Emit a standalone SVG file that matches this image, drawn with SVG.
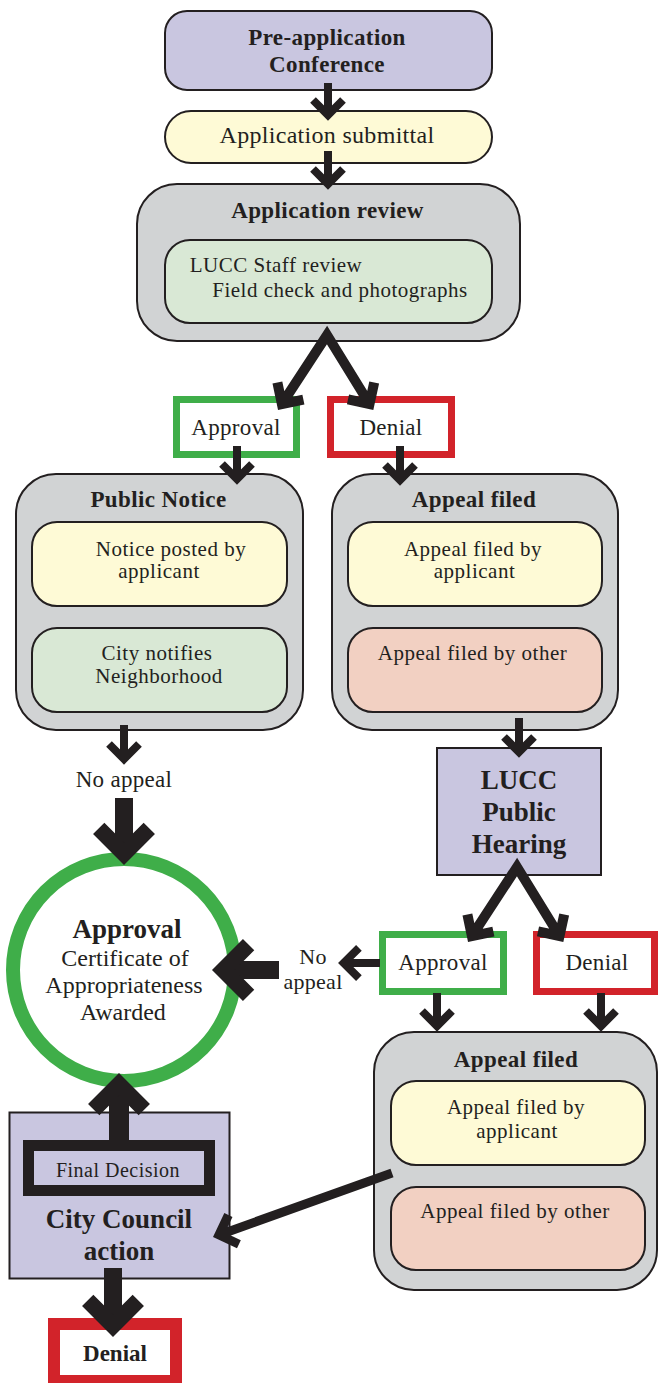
<svg xmlns="http://www.w3.org/2000/svg" width="660" height="1383" viewBox="0 0 660 1383">
<style>
text{font-family:"Liberation Serif","Times New Roman",serif;fill:#231f20;text-anchor:middle}
.b{font-weight:bold}
.t{font-size:23px;font-weight:bold;letter-spacing:0.4px}
.body{font-size:21px;letter-spacing:0.5px}
.lab{font-size:23px;letter-spacing:0.3px}
.lav{fill:#c9c6e0;stroke:#231f20;stroke-width:2}
.yel{fill:#fefad6;stroke:#231f20;stroke-width:2}
.gry{fill:#d1d3d4;stroke:#231f20;stroke-width:2}
.grn{fill:#d9e8d5;stroke:#231f20;stroke-width:2}
.sal{fill:#f2d0c2;stroke:#231f20;stroke-width:2}
.okbox{fill:#fff;stroke:#3fae49;stroke-width:7}
.nobox{fill:#fff;stroke:#d2232a;stroke-width:7}
.arr{fill:none;stroke:#231f20;stroke-linejoin:miter;stroke-miterlimit:10;stroke-linecap:butt}
</style>
<rect width="660" height="1383" fill="#fff"/>

<g id="pre-application">
<rect class="lav" x="165" y="11" width="327" height="79" rx="22"/>
<text class="t" x="327" y="45">Pre-application</text>
<text class="t" x="327" y="72">Conference</text>
</g>

<g id="application-submittal">
<rect class="yel" x="165" y="111" width="327" height="52" rx="26"/>
<text style="font-size:24px;letter-spacing:0.3px" x="327" y="143">Application submittal</text>
</g>

<g id="application-review">
<rect class="gry" x="137" y="184" width="383" height="157" rx="40"/>
<text class="t" x="327.5" y="218">Application review</text>
<rect class="grn" x="165" y="240" width="327" height="83" rx="25"/>
<text class="body" x="276" y="272">LUCC Staff review</text>
<text class="body" x="340" y="297">Field check and photographs</text>
</g>

<g id="approval-1">
<rect class="okbox" x="176.5" y="399.5" width="120" height="55"/>
<text class="lab" x="236" y="435">Approval</text>
</g>

<g id="denial-1">
<rect class="nobox" x="330.5" y="399.5" width="121" height="55"/>
<text class="lab" x="391" y="435">Denial</text>
</g>

<g id="public-notice">
<rect class="gry" x="16" y="474" width="287" height="256" rx="40"/>
<text class="t" x="158.5" y="507">Public Notice</text>
<rect class="yel" x="32" y="522" width="255" height="84" rx="25"/>
<text class="body" x="171" y="556">Notice posted by</text>
<text class="body" x="159" y="578">applicant</text>
<rect class="grn" x="32" y="628" width="255" height="84" rx="25"/>
<text class="body" x="157" y="660">City notifies</text>
<text class="body" x="159" y="683">Neighborhood</text>
</g>

<g id="appeal-filed-1">
<rect class="gry" x="332" y="474" width="286" height="256" rx="40"/>
<text class="t" x="474" y="507">Appeal filed</text>
<rect class="yel" x="348" y="522" width="254" height="84" rx="25"/>
<text class="body" x="473" y="556">Appeal filed by</text>
<text class="body" x="474.5" y="578">applicant</text>
<rect class="sal" x="348" y="628" width="254" height="84" rx="25"/>
<text class="body" x="472.5" y="660">Appeal filed by other</text>
</g>

<g id="no-appeal-1">
<text class="lab" x="124" y="787">No appeal</text>
</g>

<g id="lucc-public-hearing">
<rect class="lav" x="437" y="748" width="164" height="127"/>
<text class="b" style="font-size:27px" x="519" y="789">LUCC</text>
<text class="b" style="font-size:27px" x="519" y="821">Public</text>
<text class="b" style="font-size:27px" x="519" y="853">Hearing</text>
</g>

<g id="approval-final">
<circle cx="124" cy="970" r="111" fill="#fff" stroke="#3fae49" stroke-width="14"/>
<text class="b" style="font-size:27px" x="127" y="938">Approval</text>
<text style="font-size:24px" x="125" y="966">Certificate of</text>
<text style="font-size:24px" x="124" y="993">Appropriateness</text>
<text style="font-size:24px" x="123" y="1020">Awarded</text>
</g>

<g id="no-appeal-2">
<text style="font-size:22px;letter-spacing:0.3px" x="313" y="964">No</text>
<text style="font-size:22px;letter-spacing:0.3px" x="313" y="989">appeal</text>
</g>

<g id="approval-2">
<rect class="okbox" x="382.5" y="934.5" width="121" height="57"/>
<text class="lab" x="443" y="970">Approval</text>
</g>

<g id="denial-2">
<rect class="nobox" x="536.5" y="934.5" width="118" height="57"/>
<text class="lab" x="597" y="970">Denial</text>
</g>

<g id="appeal-filed-2">
<rect class="gry" x="374" y="1032" width="283" height="258" rx="40"/>
<text class="t" x="516" y="1067">Appeal filed</text>
<rect class="yel" x="391" y="1081" width="254" height="84" rx="25"/>
<text class="body" x="516" y="1114">Appeal filed by</text>
<text class="body" x="517" y="1138">applicant</text>
<rect class="sal" x="391" y="1187" width="254" height="83" rx="25"/>
<text class="body" x="515" y="1218">Appeal filed by other</text>
</g>

<g id="city-council">
<rect class="lav" x="9.5" y="1112.5" width="220" height="166"/>
<rect x="28.5" y="1145.5" width="181" height="45" fill="#c9c6e0" stroke="#231f20" stroke-width="11"/>
<text style="font-size:20px;letter-spacing:0.5px" x="118" y="1177">Final Decision</text>
<text class="b" style="font-size:27px" x="119" y="1228">City Council</text>
<text class="b" style="font-size:27px" x="119" y="1260">action</text>
</g>

<g id="denial-final">
<rect x="54" y="1324" width="122" height="57" fill="#fff" stroke="#d2232a" stroke-width="12"/>
<text class="b" style="font-size:23px" x="115" y="1361">Denial</text>
</g>

<g id="connectors">
<path class="arr" stroke-width="8" d="M328 83V112M313 100L328 115L343 100"/>
<path class="arr" stroke-width="8" d="M328 151V181M313 169L328 184L343 169"/>
<path class="arr" stroke-width="10" d="M281.9 404.1L327 335L369.5 404M277.4 382.6L281.9 404.1L303.4 399.6M374.2 382.5L369.5 404L348 399.3"/>
<path class="arr" stroke-width="8" d="M237 446V476M222 464L237 479L252 464"/>
<path class="arr" stroke-width="8" d="M400 446V477M385 465L400 480L415 465"/>
<path class="arr" stroke-width="8" d="M124 725V756M109 744L124 759L139 744"/>
<path class="arr" stroke-width="18" d="M124 798V850"/>
<path class="arr" stroke-width="16" d="M98.7 828.4L124 853.7L149.3 828.4"/>
<path class="arr" stroke-width="8" d="M519 718V749M504 737L519 752L534 737"/>
<path class="arr" stroke-width="10" d="M471.9 936.1L517 867L559.5 936M467.4 914.6L471.9 936.1L493.4 931.6M564.2 914.5L559.5 936L538 931.3"/>
<path class="arr" stroke-width="8" d="M380 963H347M358.9 947.8L343.7 963L358.9 978.2"/>
<path class="arr" stroke-width="18" d="M279 970H226"/>
<path class="arr" stroke-width="16" d="M248.6 944.7L223.3 970L248.6 995.3"/>
<path class="arr" stroke-width="8" d="M437 993V1023M422 1011L437 1026L452 1011"/>
<path class="arr" stroke-width="8" d="M601 993V1023M586 1011L601 1026L616 1011"/>
<path class="arr" stroke-width="9" d="M392 1173L221.8 1233.9M228.4 1215L219 1234.9L238.9 1244.3"/>
<path class="arr" stroke-width="20" d="M119 1146V1087"/>
<path class="arr" stroke-width="16" d="M93.7 1109.6L119 1084.3L144.3 1109.6"/>
<path class="arr" stroke-width="18" d="M113 1268V1322"/>
<path class="arr" stroke-width="16" d="M87.7 1300.4L113 1325.7L138.3 1300.4"/>
</g>
</svg>
